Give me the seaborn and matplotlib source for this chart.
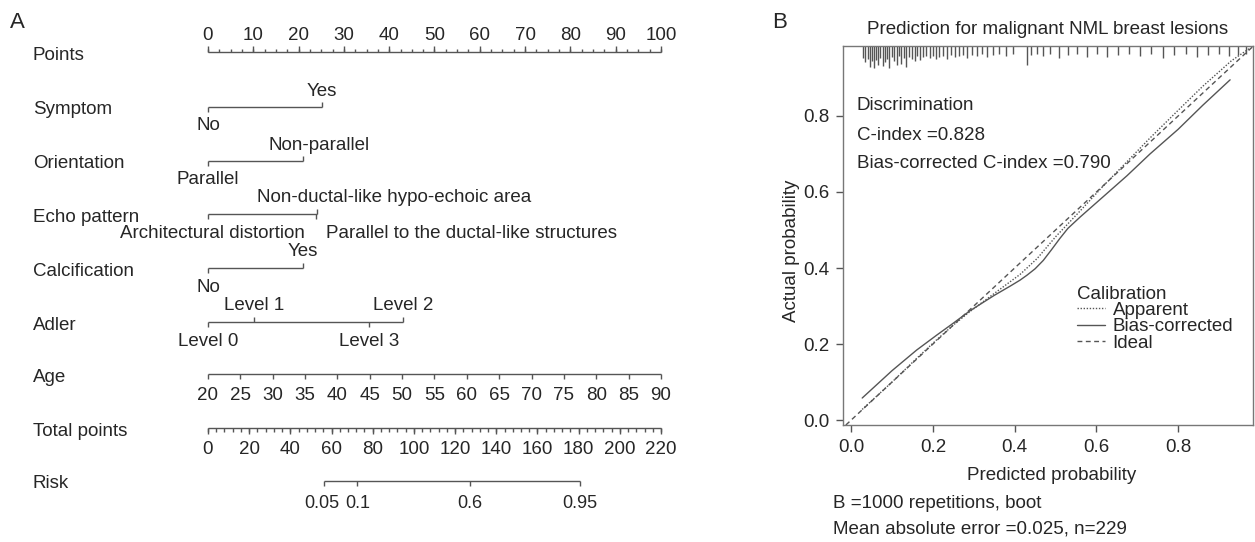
import numpy as np
import pandas as pd
import matplotlib
matplotlib.use("Agg")
import matplotlib.pyplot as plt
from matplotlib.lines import Line2D
import seaborn as sns

# ---------------- data ----------------
points_ticks = list(range(0, 101, 10))

symptom_levels = ["No", "Yes"]
symptom_points = [0, 25.2]
orientation_levels = ["Parallel", "Non-parallel"]
orientation_points = [0, 21.0]
echo_levels = ["Architectural distortion", "Non-ductal-like hypo-echoic area",
               "Parallel to the ductal-like structures"]
echo_points = [0, 24.1, 23.9]
calc_levels = ["No", "Yes"]
calc_points = [0, 21.0]
adler_levels = ["Level 0", "Level 1", "Level 2", "Level 3"]
adler_points = [0, 10.1, 43.0, 35.5]

age_values = [20, 25, 30, 35, 40, 45, 50, 55, 60, 65, 70, 75, 80, 85, 90]
age_range_points = [0, 100]          # points at age 20 and age 90
total_ticks = [0, 20, 40, 60, 80, 100, 120, 140, 160, 180, 200, 220]
risk_labels = ["0.05", "0.1", "0.6", "0.95"]
risk_total_points = [56.3, 72.2, 127.2, 180.7]

pred_grid = [0.027, 0.10, 0.16, 0.21, 0.25, 0.29, 0.35, 0.39, 0.413, 0.43, 0.45,
             0.47, 0.49, 0.51, 0.53, 0.56, 0.616, 0.675, 0.731, 0.80, 0.86, 0.927]
bias_corrected = [0.058, 0.130, 0.184, 0.224, 0.255, 0.287, 0.328, 0.353, 0.368,
                  0.381, 0.398, 0.420, 0.448, 0.477, 0.504, 0.534, 0.587, 0.643,
                  0.700, 0.765, 0.828, 0.895]
app_grid = [0.027, 0.10, 0.16, 0.21, 0.25, 0.29, 0.35, 0.413, 0.455, 0.50,
            0.56, 0.616, 0.675, 0.731, 0.80, 0.86, 0.93, 0.975]
apparent = [0.028, 0.100, 0.162, 0.212, 0.250, 0.285, 0.333, 0.383, 0.425, 0.482,
            0.550, 0.615, 0.680, 0.742, 0.815, 0.878, 0.945, 0.978]

rug_pred = [0.030, 0.035, 0.040, 0.046, 0.051, 0.056, 0.061, 0.066, 0.071, 0.077,
            0.082, 0.088, 0.093, 0.099, 0.105, 0.111, 0.117, 0.123, 0.129, 0.135,
            0.141, 0.148, 0.155, 0.162, 0.169, 0.176, 0.184, 0.192, 0.200, 0.208,
            0.216, 0.225, 0.234, 0.243, 0.253, 0.263, 0.273, 0.284, 0.296, 0.308,
            0.320, 0.333, 0.347, 0.362, 0.378, 0.395, 0.430, 0.440, 0.455, 0.470,
            0.487, 0.508, 0.530, 0.553, 0.577, 0.601, 0.626, 0.652, 0.679, 0.706,
            0.734, 0.762, 0.790, 0.818, 0.846, 0.873, 0.899, 0.924, 0.946, 0.966]
rug_len = [0.55, 0.75, 0.60, 0.95, 0.70, 1.00, 0.65, 0.85, 0.55, 0.90,
           0.75, 0.60, 1.00, 0.50, 0.70, 0.85, 0.45, 0.80, 0.55, 0.95,
           0.50, 0.60, 0.70, 0.45, 0.65, 0.50, 0.45, 0.55, 0.45, 0.60,
           0.50, 0.45, 0.60, 0.40, 0.50, 0.45, 0.40, 0.55, 0.40, 0.45,
           0.35, 0.50, 0.40, 0.35, 0.45, 0.35, 0.85, 0.40, 0.35, 0.45,
           0.35, 0.55, 0.40, 0.35, 0.50, 0.35, 0.50, 0.40, 0.35, 0.45,
           0.35, 0.55, 0.40, 0.35, 0.50, 0.40, 0.35, 0.45, 0.40, 0.35]

# ---------------- style ----------------
sns.set_style("white")
plt.rcParams["font.family"] = ["Liberation Sans", "DejaVu Sans"]
FS = 13.5
LC = "#555555"
TC = "#262626"
LW = 1.0

fig = plt.figure(figsize=(12.55, 5.42), dpi=100)

# ---------------- panel A: nomogram ----------------
ax = fig.add_axes([0, 0, 760 / 1255, 1])
ax.set_axis_off()
PXPT = 4.53   # pixels per point unit
X0 = 208      # pixel position of 0 points
ax.set_xlim(-X0 / PXPT, (760 - X0) / PXPT)
ax.set_ylim(542, 0)


def px(d):
    return d / PXPT


row_y = {"Points": 52, "Symptom": 107, "Orientation": 161, "Echo pattern": 214,
         "Calcification": 268, "Adler": 322, "Age": 374, "Total points": 428,
         "Risk": 481}
label_x = px(33 - X0)
for name, y in row_y.items():
    ax.text(label_x, y + 3, name, fontsize=FS, color=TC, ha="left", va="center")

# Points axis (ticks upward, labels above)
y = row_y["Points"]
ax.hlines(y, 0, 100, color=LC, lw=LW)
minor = np.arange(0, 100.01, 2.5)
ax.vlines(minor, y - 3.5, y, color=LC, lw=LW)
ax.vlines(points_ticks, y - 6, y, color=LC, lw=LW)
for t in points_ticks:
    ax.text(t, y - 16, str(t), fontsize=FS, color=TC, ha="center", va="center")

# categorical rows
cat_rows = [
    ("Symptom", symptom_levels, symptom_points, [False, True], [0, 0]),
    ("Orientation", orientation_levels, orientation_points, [False, True], [0, 16]),
    ("Echo pattern", echo_levels, echo_points, [False, True, False], [4, 77, 155]),
    ("Calcification", calc_levels, calc_points, [False, True], [0, 0]),
    ("Adler", adler_levels, adler_points, [False, True, True, False], [0, 0, 0, 0]),
]
for name, levels, pts, above, offs in cat_rows:
    y = row_y[name]
    ax.hlines(y, min(pts), max(pts), color=LC, lw=LW)
    for lev, p, up, o in zip(levels, pts, above, offs):
        if up:
            ax.vlines(p, y - 5, y, color=LC, lw=LW)
            ax.text(p + px(o), y - 16, lev, fontsize=FS, color=TC, ha="center", va="center")
        else:
            ax.vlines(p, y, y + 5, color=LC, lw=LW)
            ax.text(p + px(o), y + 19, lev, fontsize=FS, color=TC, ha="center", va="center")

# Age axis
y = row_y["Age"]
age_pts = [age_range_points[0] + (a - age_values[0]) / (age_values[-1] - age_values[0])
           * (age_range_points[1] - age_range_points[0]) for a in age_values]
ax.hlines(y, age_pts[0], age_pts[-1], color=LC, lw=LW)
ax.vlines(age_pts, y, y + 5, color=LC, lw=LW)
for a, p in zip(age_values, age_pts):
    ax.text(p, y + 21, str(a), fontsize=FS, color=TC, ha="center", va="center")

# Total points axis
y = row_y["Total points"]
scale_tp = 100 / total_ticks[-1]
ax.hlines(y, 0, total_ticks[-1] * scale_tp, color=LC, lw=LW)
tp_minor = np.arange(0, total_ticks[-1] + 0.01, 4) * scale_tp
ax.vlines(tp_minor, y, y + 3.5, color=LC, lw=LW)
ax.vlines(np.array(total_ticks) * scale_tp, y, y + 6, color=LC, lw=LW)
for t in total_ticks:
    ax.text(t * scale_tp, y + 21, str(t), fontsize=FS, color=TC, ha="center", va="center")

# Risk axis
y = row_y["Risk"]
rp = np.array(risk_total_points) * scale_tp
ax.hlines(y, rp.min(), rp.max(), color=LC, lw=LW)
ax.vlines(rp, y, y + 5, color=LC, lw=LW)
risk_dx = [-2, 1, 0, 0]
for lab, p, d in zip(risk_labels, rp, risk_dx):
    ax.text(p + px(d), y + 22, lab, fontsize=13, color=TC, ha="center", va="center")

fig.text(10 / 1255, 1 - 22 / 542, "A", fontsize=16, color=TC, ha="left", va="center")

# ---------------- panel B: calibration ----------------
ax2 = fig.add_axes([843 / 1255, (542 - 425) / 542, 410 / 1255, 379 / 542])
ax2.set_facecolor("white")
ax2.set_xlim(-0.02, 0.983)
ax2.set_ylim(-0.013, 0.984)

ax2.axline((0, 0), (1, 1), color=LC, lw=LW, linestyle=(0, (3.5, 2.5)))
sns.lineplot(x=app_grid, y=apparent, ax=ax2, color=LC, lw=LW,
             linestyle=(0, (1, 1.2)), sort=False)
sns.lineplot(x=pred_grid, y=bias_corrected, ax=ax2, color=LC, lw=LW,
             linestyle="-", sort=False)
ax2.vlines(rug_pred, 1 - np.array(rug_len) * 0.058, 1, color=LC, lw=1.0,
           transform=ax2.get_xaxis_transform())

ax2.set_xticks([0, 0.2, 0.4, 0.6, 0.8])
ax2.set_yticks([0, 0.2, 0.4, 0.6, 0.8])
ax2.set_xticklabels(["0.0", "0.2", "0.4", "0.6", "0.8"])
ax2.set_yticklabels(["0.0", "0.2", "0.4", "0.6", "0.8"])
ax2.tick_params(axis="both", direction="out", length=5, width=1, color=LC,
                labelsize=FS, labelcolor=TC, pad=5, bottom=True, left=True)
for s in ax2.spines.values():
    s.set_color("#777777")
    s.set_linewidth(1.0)

ax2.set_title("Prediction for malignant NML breast lesions", fontsize=FS, color=TC, pad=9)
ax2.set_xlabel("Predicted probability", fontsize=FS, color=TC)
ax2.xaxis.set_label_coords(0.51, -0.112)
ax2.set_ylabel("Actual probability", fontsize=FS, color=TC)
ax2.yaxis.set_label_coords(-0.105, 0.46)

for txt, yy in [("Discrimination", 0.844), ("C-index =0.828", 0.765),
                ("Bias-corrected C-index =0.790", 0.689)]:
    ax2.text(0.034, yy, txt, transform=ax2.transAxes, fontsize=FS, color=TC,
             ha="left", va="center")

handles = [Line2D([], [], color=LC, lw=LW, linestyle=(0, (1, 1.2))),
           Line2D([], [], color=LC, lw=LW, linestyle="-"),
           Line2D([], [], color=LC, lw=LW, linestyle=(0, (3.5, 2.5)))]
leg = ax2.legend(handles, ["Apparent", "Bias-corrected", "Ideal"], title="Calibration",
                 loc="upper left", bbox_to_anchor=(0.571, 0.368), frameon=False,
                 fontsize=FS, title_fontsize=FS, labelspacing=-0.04, handlelength=1.5,
                 handletextpad=0.4, borderpad=0, borderaxespad=0, alignment="left")
for t in leg.get_texts():
    t.set_color(TC)
leg.get_title().set_color(TC)

fig.text(833 / 1255, (542 - 503) / 542, "B =1000 repetitions, boot", fontsize=FS,
         color=TC, ha="left", va="center")
fig.text(833 / 1255, (542 - 529) / 542, "Mean absolute error =0.025, n=229", fontsize=FS,
         color=TC, ha="left", va="center")
fig.text(772 / 1255, 1 - 22 / 542, "B", fontsize=16, color=TC, ha="left", va="center")

fig.savefig("out.png", dpi=100, facecolor="white")
